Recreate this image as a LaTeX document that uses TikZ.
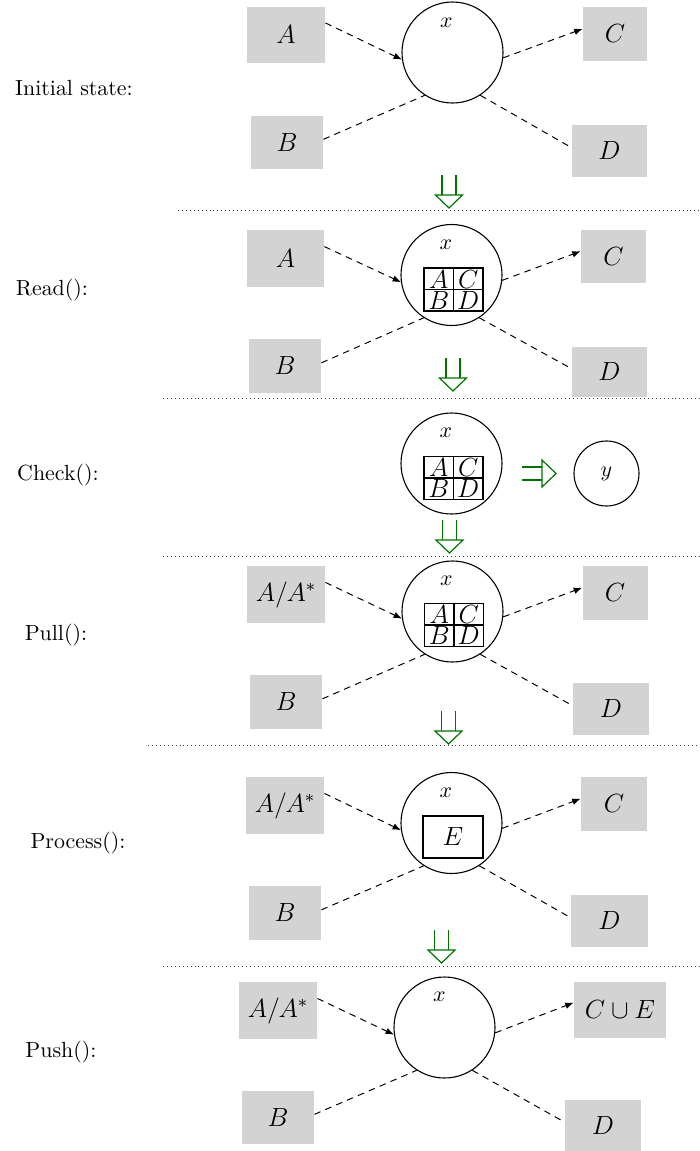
\documentclass[tikz,border=0pt]{standalone}
\usetikzlibrary{arrows.meta}
\def\pu{0.4566pt}
\definecolor{boxgray}{RGB}{211,211,211}
\definecolor{arrgreen}{RGB}{0,115,0}
\tikzset{
  box/.style n args={2}{fill=boxgray, inner sep=0pt, font=\large,
    minimum width=#1*\pu, minimum height=#2*\pu},
  state/.style={circle, draw, line width=0.5pt, minimum size=101*\pu, inner sep=0pt},
  small state/.style={circle, draw, line width=0.5pt, minimum size=65*\pu, inner sep=0pt},
  varlab/.style={inner sep=0pt},
  steplab/.style={inner sep=0pt},
  gridbox/.style={draw, line width=0.5pt, minimum width=59*\pu, minimum height=43*\pu, inner sep=0pt},
  cell/.style={inner sep=0pt, font=\fontsize{11.5}{13}\selectfont},
  conn/.style={dash pattern=on 3pt off 2.4pt, line width=0.45pt},
  connarrow/.style={conn, -{Latex[length=3.8pt,width=3pt]}},
  sep/.style={black!75, line width=0.45pt, dash pattern=on 0.45pt off 1.35pt},
  trans/.style={arrgreen, line width=0.55pt},
  dnarrow/.pic={
    \draw[trans] (-7,0) -- (-7,20) (7,0) -- (7,20);
    \draw[trans] (-13.5,20) -- (13.5,20) -- (0,33) -- cycle;
  },
  rtarrow/.pic={
    \draw[trans] (0,-6.5) -- (20,-6.5) (0,6.5) -- (20,6.5);
    \draw[trans] (20,-13.5) -- (20,13.5) -- (34,0) -- cycle;
  }
}
\newcommand\abcdgrid[3]{%
  \node[gridbox] (#1) at (#2,#3) {};
  \draw[line width=0.5pt] (#1.north) -- (#1.south) (#1.west) -- (#1.east);
  \node[cell] (#1a) at ([shift={(-14.75,-10.25)}]#1.center) {$A$};
  \node[cell] (#1c) at ([shift={(14.75,-10.25)}]#1.center) {$C$};
  \node[cell] (#1b) at ([shift={(-14.75,10.75)}]#1.center) {$B$};
  \node[cell] (#1d) at ([shift={(14.75,10.75)}]#1.center) {$D$};
}
\begin{document}
\begin{tikzpicture}[x=\pu, y=-\pu]
\useasboundingbox (0,0) rectangle (700,1151);

% ---------- Panel 1: Initial state ----------
\node[steplab] (s1) at (74,88) {Initial state:};
\node[box={78}{56}] (A1) at (286,35) {$A$};
\node[box={72}{53}] (B1) at (287,142.5) {$B$};
\node[box={64}{54}] (C1) at (615,34) {$C$};
\node[box={75}{52}] (D1) at (609.5,151) {$D$};
\node[state] (x1) at (452.5,52.5) {};
\node[varlab] (xl1) at (446.5,22.5) {$x$};
\draw[connarrow] (A1.17) -- (x1.188);
\draw[connarrow] (x1.354) -- (C1.171);
\draw[conn] (B1.5) -- (x1.237);
\draw[conn] (x1.303) -- (D1.175);
\pic at (449,175) {dnarrow};
\draw[sep] (178,210) -- (700,210);

% ---------- Panel 2: Read ----------
\node[steplab] (s2) at (52,290) {Read():};
\node[box={77}{57}] (A2) at (285.5,258.5) {$A$};
\node[box={72}{54}] (B2) at (285,366) {$B$};
\node[box={65}{53}] (C2) at (613.5,256.5) {$C$};
\node[box={75}{50}] (D2) at (609.5,372) {$D$};
\node[state] (x2) at (451.5,275) {};
\node[varlab] (xl2) at (446,245) {$x$};
\abcdgrid{g2}{453.5}{289.5}
\draw[connarrow] (A2.17) -- (x2.188);
\draw[connarrow] (x2.354) -- (C2.171);
\draw[conn] (B2.5) -- (x2.237);
\draw[conn] (x2.303) -- (D2.175);
\pic at (453,358) {dnarrow};
\draw[sep] (163,398.5) -- (700,398.5);

% ---------- Panel 3: Check ----------
\node[steplab] (s3) at (58,475) {Check():};
\node[state] (x3) at (451.5,463.5) {};
\node[varlab] (xl3) at (446,433) {$x$};
\abcdgrid{g3}{453.5}{478}
\pic at (522,473.5) {rtarrow};
\node[small state] (y3) at (606.5,473.5) {$y$};
\pic at (449.5,520) {dnarrow};
\draw[sep] (163,556) -- (700,556);

% ---------- Panel 4: Pull ----------
\node[steplab] (s4) at (56,635) {Pull():};
\node[box={78}{57}] (A4) at (286,594.5) {$A/A^*$};
\node[box={72}{54}] (B4) at (286,702) {$B$};
\node[box={65}{54}] (C4) at (615,593) {$C$};
\node[box={76}{52}] (D4) at (611,709) {$D$};
\node[state] (x4) at (452.5,611.5) {};
\node[varlab] (xl4) at (446.5,581) {$x$};
\abcdgrid{g4}{454}{625}
\draw[connarrow] (A4.17) -- (x4.188);
\draw[connarrow] (x4.354) -- (C4.171);
\draw[conn] (B4.5) -- (x4.237);
\draw[conn] (x4.303) -- (D4.175);
\pic at (448.5,711) {dnarrow};
\draw[sep] (148,745) -- (700,745);

% ---------- Panel 5: Process ----------
\node[steplab] (s5) at (78,843) {Process():};
\node[box={78}{57}] (A5) at (285,805.5) {$A/A^*$};
\node[box={72}{54}] (B5) at (285,913) {$B$};
\node[box={66}{54}] (C5) at (614,804) {$C$};
\node[box={77}{52}] (D5) at (609.5,921) {$D$};
\node[state] (x5) at (451.5,823) {};
\node[varlab] (xl5) at (446,792.5) {$x$};
\node[gridbox, minimum width=60*\pu, minimum height=42*\pu, font=\large] (E5) at (453,837) {$E$};
\draw[connarrow] (A5.17) -- (x5.188);
\draw[connarrow] (x5.354) -- (C5.171);
\draw[conn] (B5.5) -- (x5.237);
\draw[conn] (x5.303) -- (D5.175);
\pic at (441.5,930) {dnarrow};
\draw[sep] (163,966) -- (700,966);

% ---------- Panel 6: Push ----------
\node[steplab] (s6) at (61,1052) {Push():};
\node[box={78}{57}] (A6) at (278,1010.5) {$A/A^*$};
\node[box={72}{53}] (B6) at (278,1117.5) {$B$};
\node[box={92}{56}] (C6) at (620,1010) {$C\cup E$};
\node[box={76}{51}] (D6) at (603,1125.5) {$D$};
\node[state] (x6) at (444.5,1027.5) {};
\node[varlab] (xl6) at (439.5,997) {$x$};
\draw[connarrow] (A6.17) -- (x6.188);
\draw[connarrow] (x6.354) -- (C6.171);
\draw[conn] (B6.5) -- (x6.237);
\draw[conn] (x6.303) -- (D6.175);
\end{tikzpicture}
\end{document}
